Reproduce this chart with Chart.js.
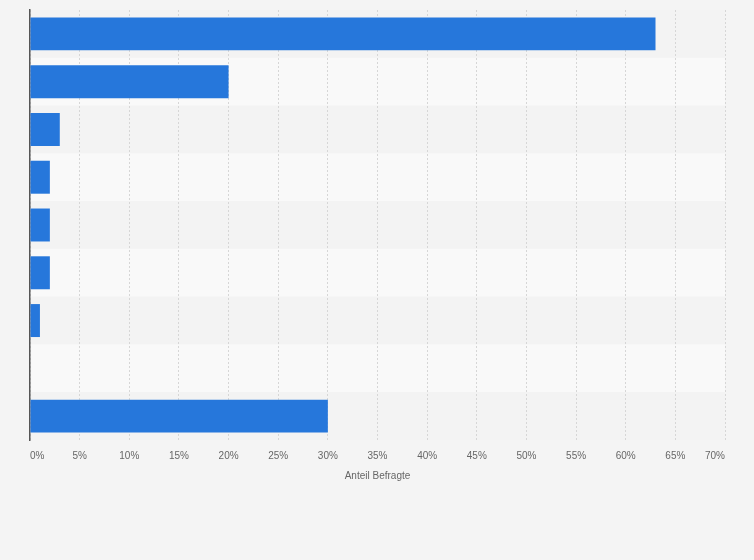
<!DOCTYPE html>
<html>
<head>
<meta charset="utf-8">
<script src="https://cdn.jsdelivr.net/npm/chart.js@4"></script>
<style>
  html, body { margin: 0; padding: 0; background: #f4f4f4; }
  #wrap { width: 754px; height: 560px; }
</style>
</head>
<body>
<div id="wrap"><canvas id="mainChart" width="754" height="560"></canvas></div>
<script>
// Daten (Kategorienamen sind im Bild nicht sichtbar)
const categories = ['', '', '', '', '', '', '', '', ''];
const shareValues = [63, 20, 3, 2, 2, 2, 1, 0, 30];
const axisTitle = 'Anteil Befragte';
const xMax = 70;
const xStep = 5;

// Hintergrund + abwechselnde Zeilenstreifen
const bandPlugin = {
    id: 'bands',
    beforeDraw(chart) {
        const { ctx, chartArea, scales } = chart;
        ctx.save();
        ctx.fillStyle = '#f4f4f4';
        ctx.fillRect(0, 0, chart.width, chart.height);
        const rowH = (chartArea.bottom - chartArea.top) / categories.length;
        categories.forEach((c, i) => {
            const yc = scales.y.getPixelForValue(i);
            ctx.fillStyle = i % 2 === 0 ? '#f3f3f3' : '#f9f9f9';
            ctx.fillRect(chartArea.left, yc - rowH / 2, chartArea.right - chartArea.left, rowH);
        });
        ctx.restore();
    }
};

new Chart(document.getElementById('mainChart').getContext('2d'), {
    type: 'bar',
    data: {
        labels: categories,
        datasets: [{
            data: shareValues,
            backgroundColor: '#2677db',
            borderWidth: 0,
            barPercentage: 0.69,
            categoryPercentage: 1
        }]
    },
    options: {
        indexAxis: 'y',
        responsive: false,
        animation: false,
        layout: { padding: { left: 30, right: 29, top: 10, bottom: 78 } },
        plugins: { legend: { display: false }, tooltip: { enabled: false } },
        scales: {
            x: {
                min: 0,
                max: xMax,
                ticks: {
                    stepSize: xStep,
                    align: 'inner',
                    padding: 10,
                    color: '#666',
                    font: { family: 'Liberation Sans, Arial', size: 10 },
                    callback: v => v + '%'
                },
                grid: { color: '#d6d6d6', borderDash: [2, 2], drawTicks: false, lineWidth: 1 },
                border: { display: false, dash: [2, 2] },
                title: {
                    display: true,
                    text: axisTitle,
                    color: '#666',
                    font: { family: 'Liberation Sans, Arial', size: 10 },
                    padding: { top: -2, bottom: 0 }
                }
            },
            y: {
                ticks: { display: false },
                grid: { display: false, drawTicks: false },
                border: { display: true, color: '#555', width: 1.5 }
            }
        }
    },
    plugins: [bandPlugin]
});
</script>
</body>
</html>
